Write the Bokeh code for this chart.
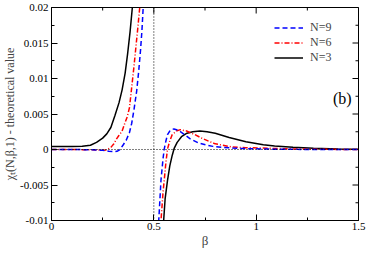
import math
from bokeh.plotting import figure
from bokeh.models import Span, Label, Legend, LegendItem, FixedTicker, Range1d
from bokeh.embed import file_html
from bokeh.resources import INLINE

# ---------------- data ----------------
x_ticks = [0, 0.5, 1, 1.5]
x_tick_labels = ["0", "0.5", "1", "1.5"]
x_minor = [0.25, 0.75, 1.25]
y_ticks = [-0.01, -0.005, 0, 0.005, 0.01, 0.015, 0.02]
y_tick_labels = ["-0.01", "-0.005", "0", "0.005", "0.01", "0.015", "0.02"]
y_minor = [-0.0075, -0.0025, 0.0025, 0.0075, 0.0125, 0.0175]

# N=3 (black solid)
n3_left_beta = [0.0, 0.05, 0.10, 0.15, 0.19, 0.22, 0.25, 0.27, 0.29, 0.31, 0.33, 0.345, 0.36, 0.372, 0.384, 0.395, 0.40]
n3_left_val = [0.00044, 0.00044, 0.00044, 0.00046, 0.0006, 0.0010, 0.0016, 0.0022, 0.0031, 0.0048, 0.0066, 0.0084, 0.0108, 0.0135, 0.0166, 0.0200, 0.0218]
n3_right_beta = [0.544, 0.548, 0.555, 0.567, 0.578, 0.59, 0.60, 0.614, 0.635, 0.662, 0.69, 0.725, 0.76, 0.80, 0.868, 0.95, 1.035, 1.09, 1.18, 1.28, 1.4, 1.5]
n3_right_val = [-0.0125, -0.0100, -0.0070, -0.0043, -0.0023, -0.0008, 0.0002, 0.0010, 0.0018, 0.0023, 0.0025, 0.0026, 0.0025, 0.0023, 0.0017, 0.0011, 0.00067, 0.0005, 0.0003, 0.00017, 0.00007, 0.00003]

# N=6 (red dash-dot)
n6_left_beta = [0.0, 0.05, 0.10, 0.15, 0.20, 0.25, 0.27, 0.29, 0.305, 0.318, 0.33, 0.345, 0.357, 0.37, 0.381, 0.392, 0.403, 0.413, 0.423, 0.432, 0.437]
n6_left_val = [0.0, 0.0, 0.0, -0.00002, -0.00005, -0.0001, -0.00005, 0.0003, 0.0008, 0.0015, 0.0020, 0.0026, 0.0036, 0.0046, 0.0059, 0.0088, 0.0117, 0.0146, 0.0175, 0.0203, 0.0225]
n6_right_beta = [0.530, 0.535, 0.545, 0.551, 0.559, 0.567, 0.578, 0.59, 0.61, 0.63, 0.66, 0.70, 0.741, 0.80, 0.884, 0.95, 1.03, 1.15, 1.3, 1.5]
n6_right_val = [-0.0125, -0.0100, -0.0060, -0.0043, -0.0018, 0.0001, 0.0012, 0.0021, 0.0026, 0.0028, 0.0026, 0.0021, 0.0015, 0.0008, 0.00035, 0.00025, 0.0002, 0.0001, 0.00003, 0.0]

# N=9 (blue dashed)
n9_left_beta = [0.0, 0.05, 0.10, 0.15, 0.20, 0.25, 0.28, 0.30, 0.32, 0.335, 0.349, 0.365, 0.381, 0.392, 0.404, 0.416, 0.426, 0.435, 0.442, 0.448, 0.453]
n9_left_val = [0.0, 0.0, 0.0, -0.00002, -0.00005, -0.00012, -0.00025, -0.0003, -0.00025, 0.0, 0.0006, 0.0013, 0.0024, 0.0037, 0.0058, 0.0082, 0.0110, 0.0140, 0.0168, 0.0200, 0.0225]
n9_right_beta = [0.519, 0.524, 0.535, 0.545, 0.551, 0.559, 0.567, 0.58, 0.598, 0.62, 0.65, 0.678, 0.72, 0.76, 0.789, 0.84, 0.884, 0.95, 1.05, 1.2, 1.35, 1.5]
n9_right_val = [-0.0125, -0.0100, -0.0043, -0.0013, 0.0001, 0.0012, 0.0021, 0.0027, 0.0029, 0.0027, 0.0021, 0.0015, 0.0009, 0.0006, 0.00044, 0.0003, 0.0002, 0.00012, 0.00006, 0.00002, 0.0, 0.0]

series_labels = ["N=9", "N=6", "N=3"]
pole_beta = 0.5
zero_level = 0.0

# ---------------- figure ----------------
FONT = "Liberation Serif"

p = figure(width=366, height=250,
           x_range=Range1d(x_ticks[0], x_ticks[-1]), y_range=Range1d(y_ticks[0], y_ticks[-1]),
           output_backend="svg", toolbar_location=None,
           min_border_left=43, min_border_right=8,
           min_border_top=7, min_border_bottom=0)
p.grid.visible = False
p.outline_line_color = "black"
p.outline_line_width = 1
p.background_fill_color = "white"
p.border_fill_color = "white"

xt = FixedTicker(ticks=x_ticks, minor_ticks=x_minor)
yt = FixedTicker(ticks=y_ticks, minor_ticks=y_minor)

for ax, ticker, labels in ((p.xaxis[0], xt, x_tick_labels), (p.yaxis[0], yt, y_tick_labels)):
    ax.ticker = ticker
    ax.axis_line_color = "black"
    ax.major_tick_line_color = "black"
    ax.minor_tick_line_color = "black"
    ax.major_tick_in = 6
    ax.major_tick_out = 0
    ax.minor_tick_in = 3
    ax.minor_tick_out = 0
    ax.major_label_text_font = FONT
    ax.major_label_text_color = "black"
    ax.major_label_text_font_size = "11px"
    ax.major_label_overrides = {t: l for t, l in zip(ticker.ticks, labels)}
    ax.axis_label_text_font = FONT
    ax.axis_label_text_font_style = "normal"
    ax.axis_label_standoff = 0

p.xaxis[0].major_label_standoff = 2
p.yaxis[0].major_label_standoff = 3
p.xaxis[0].axis_label = "β"
p.xaxis[0].axis_label_text_font_size = "13px"
p.yaxis[0].axis_label = "χₜ(N,β,1) - theoretical value"
p.yaxis[0].axis_label_text_font_size = "12px"

# mirrored inward ticks on the top and right edges (half of each dash is clipped by the frame)
p.scatter(x_ticks, [y_ticks[-1]] * len(x_ticks), marker="dash", angle=math.pi / 2,
          size=12, line_color="black", line_width=1)
p.scatter(x_minor, [y_ticks[-1]] * len(x_minor), marker="dash", angle=math.pi / 2,
          size=6, line_color="black", line_width=1)
p.scatter([x_ticks[-1]] * len(y_ticks), y_ticks, marker="dash",
          size=12, line_color="black", line_width=1)
p.scatter([x_ticks[-1]] * len(y_minor), y_minor, marker="dash",
          size=6, line_color="black", line_width=1)

# reference lines
p.add_layout(Span(location=pole_beta, dimension="height", line_color="black",
                  line_width=1, line_dash="1 2"))
p.add_layout(Span(location=zero_level, dimension="width", line_color="black",
                  line_width=1, line_dash="1 2"))

# curves
LW = 1.5
r3a = p.line(n3_left_beta, n3_left_val, line_color="black", line_width=LW)
p.line(n3_right_beta, n3_right_val, line_color="black", line_width=LW)
r6a = p.line(n6_left_beta, n6_left_val, line_color="#ff0000", line_width=LW, line_dash="5 2 1 2")
p.line(n6_right_beta, n6_right_val, line_color="#ff0000", line_width=LW, line_dash="5 2 1 2")
r9a = p.line(n9_left_beta, n9_left_val, line_color="#0000ff", line_width=LW, line_dash="5 3")
p.line(n9_right_beta, n9_right_val, line_color="#0000ff", line_width=LW, line_dash="5 3")

legend = Legend(items=[LegendItem(label=series_labels[0], renderers=[r9a]),
                       LegendItem(label=series_labels[1], renderers=[r6a]),
                       LegendItem(label=series_labels[2], renderers=[r3a])],
                location=(223, 155))
legend.border_line_color = None
legend.background_fill_alpha = 0
legend.padding = 0
legend.margin = 0
legend.spacing = -3
legend.glyph_width = 29
legend.glyph_height = 11
legend.label_height = 11
legend.label_standoff = 7
legend.label_text_font = FONT
legend.label_text_font_size = "12px"
legend.label_text_baseline = "middle"
p.add_layout(legend)

p.add_layout(Label(x=1.375, y=0.0072, text="(b)", text_font=FONT,
                   text_font_size="16px", text_baseline="middle", text_align="left",
                   text_color="black"))

open("out.html", "w").write(file_html(p, INLINE))
